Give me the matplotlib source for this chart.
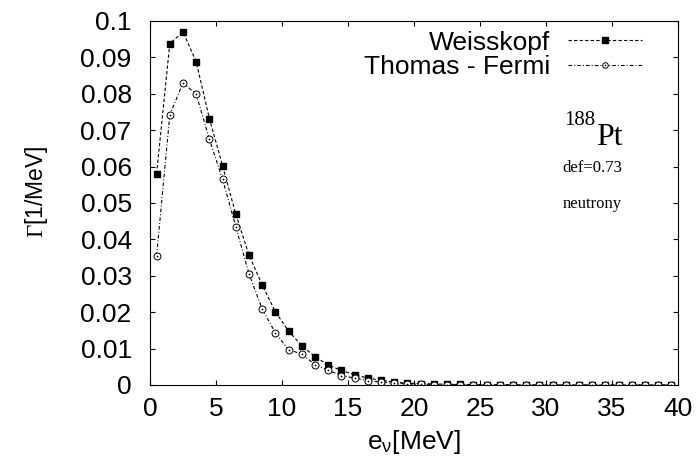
import numpy as np
import matplotlib
matplotlib.use("Agg")
import matplotlib.pyplot as plt
from matplotlib.path import Path

plt.rcParams["font.family"] = ["Liberation Sans", "DejaVu Sans"]
plt.rcParams["mathtext.fontset"] = "custom"
plt.rcParams["mathtext.rm"] = "Liberation Serif"
plt.rcParams["mathtext.sf"] = "Liberation Sans"
plt.rcParams["mathtext.it"] = "Liberation Serif:italic"
plt.rcParams["lines.scale_dashes"] = False

# neutron energy bins (bin centres, MeV)
energy = np.arange(0.5, 40.0, 1.0)

weisskopf = [
    0.0580, 0.0938, 0.0970, 0.0888, 0.0732, 0.0602, 0.0469, 0.0357, 0.0275, 0.0201,
    0.0148, 0.0108, 0.0078, 0.0055, 0.0040, 0.0028, 0.0019, 0.0013, 0.0008, 0.0005,
    0.0004, 0.0003, 0.0002, 0.0002, 0.0001, 0.0001, 0.0001, 0.0001, 0.0, 0.0,
    0.0, 0.0, 0.0, 0.0, 0.0, 0.0, 0.0, 0.0, 0.0, 0.0,
]
thomas_fermi = [
    0.0355, 0.0742, 0.0830, 0.0799, 0.0675, 0.0565, 0.0435, 0.0305, 0.0209, 0.0143,
    0.0097, 0.0085, 0.0056, 0.0040, 0.0026, 0.0019, 0.0012, 0.0008, 0.0005, 0.0003,
    0.0002, 0.0001, 0.0001, 0.0001, 0.0, 0.0, 0.0, 0.0, 0.0, 0.0,
    0.0, 0.0, 0.0, 0.0, 0.0, 0.0, 0.0, 0.0, 0.0, 0.0,
]
x_ticks = [0, 5, 10, 15, 20, 25, 30, 35, 40]
y_ticks = [0, 0.01, 0.02, 0.03, 0.04, 0.05, 0.06, 0.07, 0.08, 0.09, 0.1]
y_tick_labels = ["0", "0.01", "0.02", "0.03", "0.04", "0.05", "0.06",
                 "0.07", "0.08", "0.09", "0.1"]

# open circle with a centre dot
dot_circle = Path.make_compound_path(Path.unit_circle(), Path.circle(radius=0.12))

W, H = 698, 467
fig = plt.figure(figsize=(W / 100, H / 100), dpi=100)
ax = fig.add_axes([150 / W, 1 - 385 / H, 528 / W, 364 / H])

ax.plot(energy, weisskopf, color="black", lw=0.8, linestyle=(0, (2.4, 1.6)),
        marker="s", markersize=5.0, markerfacecolor="black",
        markeredgecolor="black", label="Weisskopf")
ax.plot(energy, thomas_fermi, color="black", lw=0.8,
        linestyle=(0, (2.6, 1.5, 0.7, 1.5)),
        marker=dot_circle, markersize=5.0, markerfacecolor="white",
        markeredgecolor="black", markeredgewidth=0.7, label="Thomas - Fermi")

ax.set_xlim(0, 40)
ax.set_ylim(0, 0.1)
ax.set_xticks(x_ticks)
ax.set_yticks(y_ticks)
ax.set_yticklabels(y_tick_labels)
ax.tick_params(direction="in", length=3.3, width=0.8, top=True, right=True,
               labelsize=19, colors="black")
ax.tick_params(axis="y", pad=13.2)
ax.tick_params(axis="x", pad=8.6)
for sp in ax.spines.values():
    sp.set_linewidth(0.8)
    sp.set_color("black")

ax.set_xlabel(r"e$_{\mathsf{\nu}}$[MeV]", fontsize=19, labelpad=5)
fig.text(37 / W, 1 - 192 / H, r"$\Gamma$[1/MeV]", rotation=90,
         ha="center", va="center", fontsize=16.5)

leg = ax.legend(loc="upper right",
                bbox_to_anchor=((645 - 150) / 528, 1.0 - 7 / 364),
                frameon=False, markerfirst=False, fontsize=19,
                handlelength=2.8, handletextpad=0.68, labelspacing=0.02,
                borderpad=0.1, borderaxespad=0.0, markerscale=0.8,
                numpoints=1)

ax.text(0.844, 0.714, "188", transform=ax.transAxes, ha="right", va="baseline",
        fontsize=15, family="Liberation Serif")
ax.text(0.8456, 0.659, "Pt", transform=ax.transAxes, ha="left", va="baseline",
        fontsize=23, family="Liberation Serif")
ax.text(0.837, 0.586, "def=0.73", transform=ax.transAxes, ha="center",
        va="baseline", fontsize=12, family="Liberation Serif")
ax.text(0.837, 0.485, "neutrony", transform=ax.transAxes, ha="center",
        va="baseline", fontsize=12, family="Liberation Serif")

fig.savefig("out.png", dpi=100)
